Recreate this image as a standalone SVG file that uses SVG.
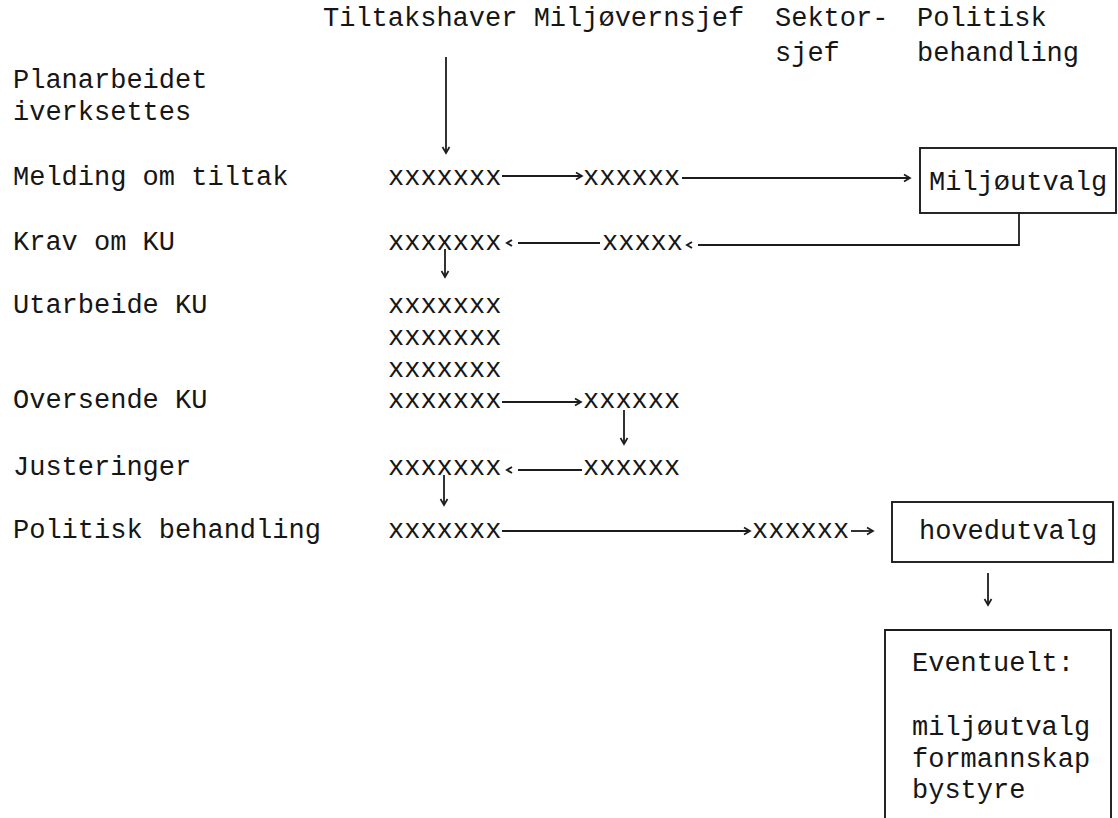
<svg xmlns="http://www.w3.org/2000/svg" width="1118" height="818" viewBox="0 0 1118 818">
<style>
text{font-family:"Liberation Mono","Courier New",monospace;font-size:27px;fill:#161616}
.ln{fill:none;stroke:#1c1c1c;stroke-width:1.8}
.box{fill:none;stroke:#1c1c1c;stroke-width:1.9}
</style>
<defs>
<marker id="ah" markerUnits="userSpaceOnUse" markerWidth="12" markerHeight="12" refX="7" refY="4" orient="auto" overflow="visible">
<path d="M1,0.5 L7,4 L1,7.5" fill="none" stroke="#1c1c1c" stroke-width="1.7"/>
</marker>
<marker id="ahg" markerUnits="userSpaceOnUse" markerWidth="12" markerHeight="12" refX="-6" refY="3" orient="auto" overflow="visible">
<path d="M0,0 L5,3 L0,6" fill="none" stroke="#1c1c1c" stroke-width="1.9"/>
</marker>
</defs>
<rect width="1118" height="818" fill="#fff"/>
<g id="header">
<text x="323" y="26">Tiltakshaver Miljøvernsjef</text>
<text x="775" y="26">Sektor-</text>
<text x="775" y="61">sjef</text>
<text x="917" y="26">Politisk</text>
<text x="917" y="61">behandling</text>
</g>
<g id="steps">
<text x="13" y="88">Planarbeidet</text>
<text x="13" y="120">iverksettes</text>
<text x="13" y="185">Melding om tiltak</text>
<text x="13" y="250">Krav om KU</text>
<text x="13" y="313">Utarbeide KU</text>
<text x="13" y="408">Oversende KU</text>
<text x="13" y="475">Justeringer</text>
<text x="13" y="538">Politisk behandling</text>
</g>
<g id="tiltakshaver">
<text x="388" y="185">xxxxxxx</text>
<text x="388" y="250">xxxxxxx</text>
<text x="388" y="313">xxxxxxx</text>
<text x="388" y="345">xxxxxxx</text>
<text x="388" y="377">xxxxxxx</text>
<text x="388" y="408">xxxxxxx</text>
<text x="388" y="475">xxxxxxx</text>
<text x="388" y="538">xxxxxxx</text>
</g>
<g id="miljovernsjef">
<text x="583" y="185">xxxxxx</text>
<text x="602" y="250">xxxxx</text>
<text x="583" y="408">xxxxxx</text>
<text x="583" y="475">xxxxxx</text>
</g>
<g id="sektorsjef">
<text x="752" y="538">xxxxxx</text>
</g>
<g id="miljoutvalg">
<rect class="box" x="920" y="148" width="196" height="65"/>
<text x="929" y="190">Miljøutvalg</text>
</g>
<g id="hovedutvalg">
<rect class="box" x="892" y="502" width="221" height="60"/>
<text x="919" y="539">hovedutvalg</text>
</g>
<g id="eventuelt">
<path class="box" d="M885,820 V630 H1111 V820"/>
<text x="912" y="671">Eventuelt:</text>
<text x="912" y="735">miljøutvalg</text>
<text x="912" y="767">formannskap</text>
<text x="912" y="798">bystyre</text>
</g>
<g id="connectors">
<line class="ln" x1="446" y1="57" x2="446" y2="153" marker-end="url(#ah)"/>
<line class="ln" x1="502" y1="176" x2="582" y2="176" marker-end="url(#ah)"/>
<line class="ln" x1="682" y1="178" x2="910" y2="178" marker-end="url(#ah)"/>
<path class="ln" d="M1019,213 V245 H698" marker-end="url(#ahg)"/>
<line class="ln" x1="600" y1="243" x2="518" y2="243" marker-end="url(#ahg)"/>
<line class="ln" x1="445" y1="249" x2="445" y2="277" marker-end="url(#ah)"/>
<line class="ln" x1="502" y1="402" x2="581" y2="402" marker-end="url(#ah)"/>
<line class="ln" x1="624" y1="410" x2="624" y2="444" marker-end="url(#ah)"/>
<line class="ln" x1="582" y1="470" x2="518" y2="470" marker-end="url(#ahg)"/>
<line class="ln" x1="444" y1="475" x2="444" y2="505" marker-end="url(#ah)"/>
<line class="ln" x1="502" y1="531" x2="750" y2="531" marker-end="url(#ah)"/>
<line class="ln" x1="851" y1="531" x2="873" y2="531" marker-end="url(#ah)"/>
<line class="ln" x1="988" y1="573" x2="988" y2="605" marker-end="url(#ah)"/>
</g>
</svg>
